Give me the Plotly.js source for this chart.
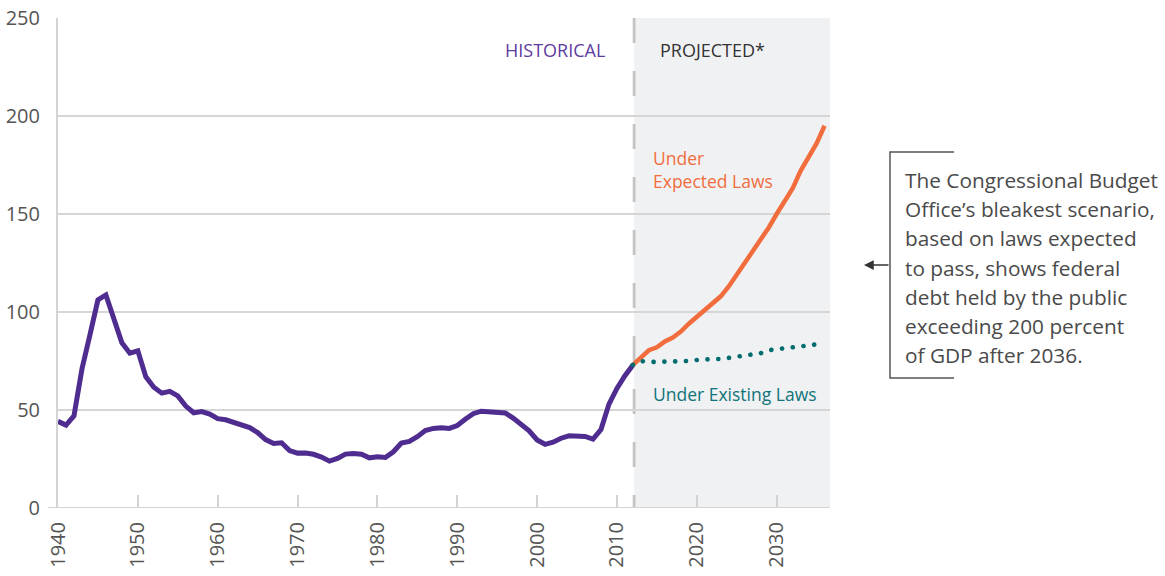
<!DOCTYPE html>
<html>
<head>
<meta charset="utf-8">
<script src="https://cdn.plot.ly/plotly-3.0.1.min.js"></script>
<style>html,body{margin:0;padding:0;background:#fff;}#chart{width:1165px;height:576px;}</style>
</head>
<body>
<div id="chart"></div>
<script>
// Historical federal debt held by the public, % of GDP
const histYears = [1940,1941,1942,1943,1944,1945,1946,1947,1948,1949,
  1950,1951,1952,1953,1954,1955,1956,1957,1958,1959,
  1960,1961,1962,1963,1964,1965,1966,1967,1968,1969,
  1970,1971,1972,1973,1974,1975,1976,1977,1978,1979,
  1980,1981,1982,1983,1984,1985,1986,1987,1988,1989,
  1990,1991,1992,1993,1994,1995,1996,1997,1998,1999,
  2000,2001,2002,2003,2004,2005,2006,2007,2008,2009,
  2010,2011,2012];
const histValues = [44.2,42.3,47.0,70.9,88.3,106.2,108.7,96.2,84.3,79.0,
  80.2,66.9,61.6,58.6,59.5,57.2,52.0,48.6,49.2,47.9,
  45.6,45.0,43.7,42.4,41.0,38.5,34.9,32.9,33.3,29.3,
  28.0,28.1,27.4,26.0,23.9,25.3,27.5,27.8,27.4,25.6,
  26.1,25.8,28.7,33.1,34.0,36.4,39.5,40.6,41.0,40.6,
  42.1,45.3,48.1,49.4,49.3,49.2,48.5,45.9,43.0,39.4,
  34.7,32.5,33.6,35.6,36.8,36.9,36.5,35.2,40.0,53.0,
  61.0,67.5,73.0];

// Projections
const projYears = [2012,2013,2014,2015,2016,2017,2018,2019,2020,2021,2022,2023,2024,
  2025,2026,2027,2028,2029,2030,2031,2032,2033,2034,2035,2036];
const expectedValues = [73,77,80.5,82,85,87,90,94,97.5,101.5,104.5,108,113,
  119,124,130.5,136,143,150,156,163,172,179,186,195];
const existingValues = [73,75,74.5,74.5,75,75,75,75,75.5,76,76,76,76.5,
  77,77.5,78,79,80.5,81,81.5,82,82.5,83,83.5,84];

const yTicks = [0,50,100,150,200,250];
const xTicks = [1940,1950,1960,1970,1980,1990,2000,2010,2020,2030];

const noteLines = ["The Congressional Budget","Office\u2019s bleakest scenario,","based on laws expected",
  "to pass, shows federal","debt held by the public","exceeding 200 percent","of GDP after 2036."];

const FONT = "'Open Sans', 'DejaVu Sans', sans-serif";

// plot geometry (pixels) for paper coordinate conversion
const L = 58, T = 18, W = 772, H = 490;
const px = x => (x - L) / W;
const py = y => (T + H - y) / H;
const xr = x => 1940 + (x - L) / 7.985;

const traces = [
  {x: histYears, y: histValues, type: 'scatter', mode: 'lines',
   line: {color: '#4f2c8f', width: 5}, hoverinfo: 'skip'},
  {x: projYears, y: expectedValues, type: 'scatter', mode: 'lines',
   line: {color: '#f26d3d', width: 4.5}, hoverinfo: 'skip'},
  {x: projYears, y: existingValues, type: 'scatter', mode: 'lines',
   line: {color: '#006c6f', width: 4.6, dash: '0.1px,10.7px'}, hoverinfo: 'skip'}
];

const annotations = [
  {xref: 'x', yref: 'paper', x: xr(607), y: py(50), xanchor: 'right', yanchor: 'middle',
   text: 'HISTORICAL', showarrow: false, font: {family: FONT, size: 18, color: '#5d3b9e'}},
  {xref: 'x', yref: 'paper', x: xr(658), y: py(50), xanchor: 'left', yanchor: 'middle',
   text: 'PROJECTED*', showarrow: false, font: {family: FONT, size: 18, color: '#333333'}},
  {xref: 'x', yref: 'paper', x: xr(651), y: py(169.5), xanchor: 'left', yanchor: 'middle', align: 'left',
   text: 'Under<br>Expected Laws', showarrow: false, font: {family: FONT, size: 17.5, color: '#f26d3d'}},
  {xref: 'x', yref: 'paper', x: xr(651), y: py(394), xanchor: 'left', yanchor: 'middle',
   text: 'Under Existing Laws', showarrow: false, font: {family: FONT, size: 17.5, color: '#10737a'}},
  {xref: 'paper', yref: 'paper', x: px(864), y: py(265), ax: 26, ay: 0, axref: 'pixel', ayref: 'pixel',
   text: '', showarrow: true, arrowhead: 2, arrowsize: 1.3, arrowwidth: 1.5, arrowcolor: '#333'}
];
noteLines.forEach((t, i) => {
  annotations.push({xref: 'paper', yref: 'paper', x: px(903), y: py(180 + i * 29.2),
    xanchor: 'left', yanchor: 'middle', text: t, showarrow: false,
    font: {family: FONT, size: 20.8, color: '#4a4a4a'}});
});

const shapes = [
  {type: 'rect', xref: 'x', yref: 'paper', x0: 2012.15, x1: 2040, y0: 0, y1: 1,
   fillcolor: '#f0f1f3', line: {width: 0}, layer: 'below'},
  {type: 'line', xref: 'x', yref: 'paper', x0: 2012.15, x1: 2012.15, y0: 1, y1: 0,
   line: {color: '#c4c4c4', width: 2.8, dash: '25px,28px'}, layer: 'below'},
  {type: 'line', xref: 'paper', yref: 'y', x0: -10 / W, x1: 1, y0: 0, y1: 0,
   line: {color: '#d3d3d3', width: 2}, layer: 'above'},
  // bracket
  {type: 'path', xref: 'paper', yref: 'paper',
   path: `M ${px(954)} ${py(152)} L ${px(890)} ${py(152)} L ${px(890)} ${py(378)} L ${px(954)} ${py(378)}`,
   line: {color: '#555', width: 1.5}}
];

const layout = {
  width: 1165, height: 576,
  margin: {l: L, r: 1165 - L - W, t: T, b: 576 - T - H},
  paper_bgcolor: '#ffffff', plot_bgcolor: 'rgba(0,0,0,0)',
  showlegend: false,
  font: {family: FONT, color: '#555'},
  xaxis: {range: [1940, 1940 + W / 7.985], tickvals: xTicks, ticktext: xTicks.map(String),
    tickangle: -90, ticks: 'inside', ticklen: 13, tickwidth: 2, tickcolor: '#d3d3d3',
    showgrid: false, zeroline: false, showline: false,
    tickfont: {family: FONT, size: 20, color: '#555'}, ticklabelstandoff: 9, fixedrange: true},
  yaxis: {range: [0, 250], tickvals: yTicks, ticktext: yTicks.map(String),
    showgrid: true, gridcolor: '#d6d6d6', gridwidth: 2, zeroline: false,
    showline: true, linecolor: '#d3d3d3', linewidth: 2, ticks: '',
    tickfont: {family: FONT, size: 20, color: '#555'}, ticklabelstandoff: 12, fixedrange: true},
  shapes: shapes,
  annotations: annotations
};

Plotly.newPlot('chart', traces, layout, {staticPlot: true, displayModeBar: false}).then(() => {
  const tr = document.querySelectorAll('#chart .scatterlayer .trace');
  if (tr[2]) {
    tr[2].querySelectorAll('path.js-line').forEach(p => { p.style.strokeLinecap = 'round'; });
  }
});
</script>
</body>
</html>
